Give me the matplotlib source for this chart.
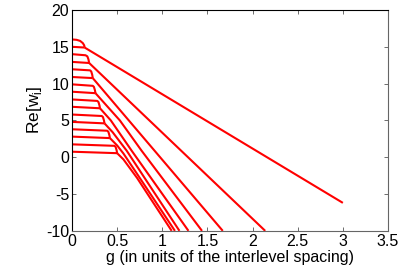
import matplotlib.pyplot as plt

plt.rcParams['font.family'] = ['Liberation Sans', 'DejaVu Sans']
plt.rcParams['mathtext.fontset'] = 'custom'
plt.rcParams['mathtext.rm'] = 'Liberation Sans'
plt.rcParams['axes.unicode_minus'] = False

# upper level of each pair, runs flat then drops onto the lower one
upper_g = [
    [0, 0.05, 0.09, 0.12, 0.135, 0.14],
    [0, 0.15, 0.17, 0.182, 0.19],
    [0, 0.20, 0.213, 0.224, 0.23],
    [0, 0.23, 0.243, 0.254, 0.26],
    [0, 0.28, 0.293, 0.304, 0.31],
    [0, 0.33, 0.343, 0.354, 0.36],
    [0, 0.39, 0.403, 0.414, 0.42],
    [0, 0.47, 0.483, 0.494, 0.50],
]
upper_e = [
    [16.0, 15.95, 15.8, 15.5, 15.2, 14.9],
    [14.0, 13.85, 13.7, 13.3, 12.8],
    [11.95, 11.8, 11.65, 11.2, 10.75],
    [9.9, 9.7, 9.55, 9.1, 8.7],
    [7.85, 7.65, 7.5, 7.05, 6.65],
    [5.8, 5.6, 5.45, 5.0, 4.6],
    [3.8, 3.6, 3.45, 3.0, 2.6],
    [1.75, 1.55, 1.4, 0.95, 0.55],
]

# lower level of each pair
lower_g = [
    [0, 0.14],
    [0, 0.19],
    [0, 0.23],
    [0, 0.26],
    [0, 0.31],
    [0, 0.36],
    [0, 0.42],
    [0, 0.50],
]
lower_e = [
    [15.0, 14.9],
    [12.95, 12.8],
    [10.9, 10.75],
    [8.9, 8.7],
    [6.85, 6.65],
    [4.8, 4.6],
    [2.8, 2.6],
    [0.75, 0.55],
]

# real part after the pair has merged
merged_g = [
    [0.14, 3.0],
    [0.19, 2.14],
    [0.23, 1.67],
    [0.26, 0.53, 0.77, 1.44],
    [0.31, 0.43, 0.66, 1.29],
    [0.36, 0.45, 0.605, 1.19],
    [0.42, 0.50, 0.57, 0.75, 1.14],
    [0.50, 0.57, 0.72, 1.104],
]
merged_e = [
    [14.9, -6.2],
    [12.8, -10],
    [10.75, -10],
    [8.7, 5.0, 0.9, -10],
    [6.65, 5.0, 0.9, -10],
    [4.6, 3.4, 0.9, -10],
    [2.6, 1.6, 0.5, -2.8, -10],
    [0.55, -0.3, -2.8, -10],
]

x_ticks = [0, 0.5, 1, 1.5, 2, 2.5, 3, 3.5]
x_labels = ['0', '0.5', '1', '1.5', '2', '2.5', '3', '3.5']
y_ticks = [-10, -5, 0, 5, 10, 15, 20]
y_labels = ['-10', '-5', '0', '5', '10', '15', '20']

fig = plt.figure(figsize=(4, 2.7), dpi=100)
ax = fig.add_axes([0.18, 0.145, 0.79, 0.818])

for g, e in zip(upper_g, upper_e):
    ax.plot(g, e, color='red', lw=1.5, solid_capstyle='butt')
for g, e in zip(lower_g, lower_e):
    ax.plot(g, e, color='red', lw=1.5, solid_capstyle='butt')
for g, e in zip(merged_g, merged_e):
    ax.plot(g, e, color='red', lw=1.5, solid_capstyle='butt')

ax.set_xlim(0, 3.5)
ax.set_ylim(-10, 20)
ax.set_xticks(x_ticks)
ax.set_xticklabels(x_labels)
ax.set_yticks(y_ticks)
ax.set_yticklabels(y_labels)
ax.tick_params(direction='in', length=3, width=0.6, top=True, right=True,
               labelsize=11.5, pad=2, color='#555555')
for s in ax.spines.values():
    s.set_linewidth(0.8)
ax.spines['bottom'].set_color('#666666')
ax.spines['right'].set_color('#666666')

ax.set_xlabel('g (in units of the interlevel spacing)', fontsize=11.5, labelpad=1)
ax.set_ylabel('Re[w$_\\mathregular{i}$]', fontsize=12.5)
ax.yaxis.set_label_coords(-0.09, 0.55)

fig.savefig('out.png', dpi=100)
